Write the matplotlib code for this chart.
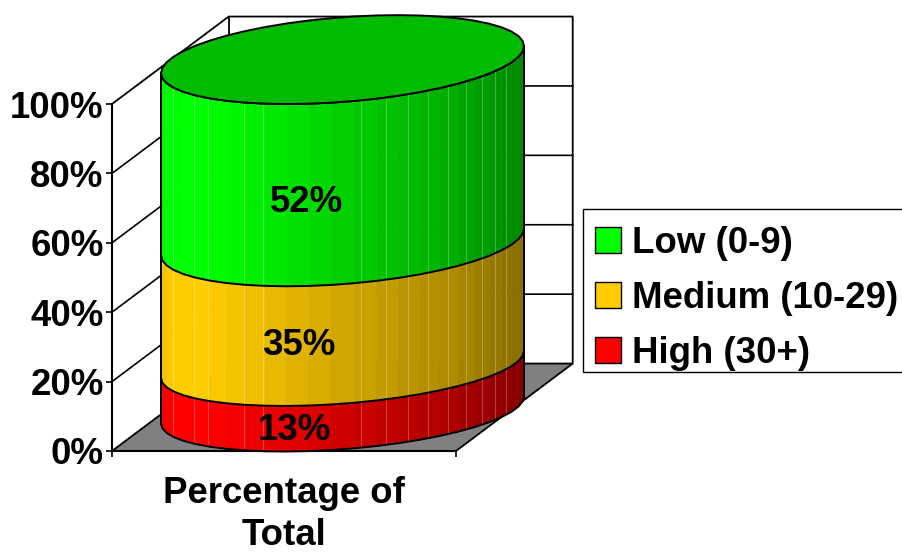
import numpy as np
import matplotlib
matplotlib.use('Agg')
import matplotlib.pyplot as plt
from matplotlib.patches import Patch, Polygon, Rectangle

plt.rcParams['font.family'] = ['Liberation Sans', 'DejaVu Sans']
plt.rcParams['font.weight'] = 'bold'
plt.rcParams['font.size'] = 26.4

categories = ['High (30+)', 'Medium (10-29)', 'Low (0-9)']
values = [13, 35, 52]
colors = ['#ff0000', '#ffcc00', '#00ff00']
value_ticks = [0, 20, 40, 60, 80, 100]
axis_name = 'Percentage of\nTotal'

W, H = 902, 552
fig = plt.figure(figsize=(W / 100, H / 100), dpi=100)
ax = fig.add_axes([112 / W, 1 - 451 / H, 344 / W, 347 / H])
ax.set_xlim(0, 344)
ax.set_ylim(0, 100)

# depth of the box, x in pixels and y in percent
dx, dy = 116.7, 25.2
# cylinder sits inside the box
cx, rx = 230.5, 181.5
base, stretch = 11.8, 1.01
tilt = 3.9

# facet edges and the lighter seams that show on the front
angles = np.radians(np.arange(180, 360.1, 7.2))
seams = np.radians([201, 215, 222, 237, 244, 276, 284, 291, 298, 305.5, 313, 320, 327, 334])


def depth(v):
    return 12.2 if v >= 48 else 11.3


def ring(v, t):
    x = cx + rx * np.cos(t)
    y = base + stretch * v + tilt * np.cos(t) + depth(v) * np.sin(t)
    return x, y


def shade(x):
    return np.interp(x, [49, 60, 96, 228, 338, 412], [0.93, 1, 1, 0.82, 0.68, 0.53])


# box walls and floor
ax.add_patch(Polygon([(0, 0), (344, 0), (344 + dx, dy), (dx, dy)], closed=True, fc='#808080', ec='black',
                     lw=1.3, clip_on=False, zorder=1))
ax.plot([0, dx, 344 + dx, 344 + dx], [100, 100 + dy, 100 + dy, dy], color='black', lw=1.3, clip_on=False, zorder=1)
ax.plot([dx, dx], [dy, 100 + dy], color='black', lw=1.3, clip_on=False, zorder=1)
for v in value_ticks[1:-1]:
    ax.plot([0, dx, 344 + dx], [v, v + dy, v + dy], color='black', lw=1.2, clip_on=False, zorder=1)

# stacked bands, one polygon per facet
bottom = 0
for val, col in zip(values, colors):
    rgb = np.array(matplotlib.colors.to_rgb(col))
    top = bottom + val
    for t0, t1 in zip(angles[:-1], angles[1:]):
        x0, y0 = ring(bottom, t0)
        x1, y1 = ring(bottom, t1)
        x2, y2 = ring(top, t1)
        x3, y3 = ring(top, t0)
        c = rgb * shade((x0 + x1) / 2)
        ax.add_patch(Polygon([(x0, y0), (x1, y1), (x2, y2), (x3, y3)], closed=True, fc=c, ec=c, lw=0.4,
                             clip_on=False, zorder=2))
    for t in seams:
        x0, y0 = ring(bottom, t)
        x1, y1 = ring(top, t)
        ax.plot([x0, x1], [y0, y1], color='white', alpha=0.25, lw=0.8, clip_on=False, zorder=3)
    bottom = top

# outlines
levels = np.cumsum([0] + values)
for v in levels:
    x, y = ring(v, angles)
    ax.plot(x, y, color='black', lw=1.4, clip_on=False, zorder=4)
for t in [angles[0], angles[-1]]:
    x0, y0 = ring(0, t)
    x1, y1 = ring(100, t)
    ax.plot([x0, x1], [y0, y1], color='black', lw=1.4, clip_on=False, zorder=4)

# top cap
cap = np.radians(np.arange(0, 360, 7.2))
capx, capy = ring(100, cap)
ax.add_patch(Polygon(np.column_stack([capx, capy]), closed=True, fc='#00bb00', ec='black', lw=1.4,
                     clip_on=False, zorder=5))

# value labels, nudged a little off the middle of each band
nudges = [-0.5, 0, -2.5]
bottom = 0
for val, nudge in zip(values, nudges):
    mid = bottom + val / 2
    ax.text(181 + 0.18 * mid, mid + nudge, f'{val}%', ha='center', va='center', color='black', zorder=6)
    bottom += val

for s in ['top', 'right']:
    ax.spines[s].set_visible(False)
ax.spines['left'].set_linewidth(1.5)
ax.spines['bottom'].set_linewidth(1.5)
ax.spines['left'].set_zorder(1)
ax.spines['bottom'].set_zorder(1)
ax.set_yticks(value_ticks)
ax.set_yticklabels([f'{v}%' for v in value_ticks])
ax.set_xticks([0, 344])
ax.set_xticklabels([])
ax.tick_params(length=4.5, width=1.2, pad=1.5)
ax.set_xlabel(axis_name, labelpad=12, linespacing=1.25, fontweight='bold')
ax.patch.set_visible(False)

# legend box runs off the right side
fig.add_artist(Rectangle((583 / W, 1 - 372 / H), 330 / W, 163 / H, transform=fig.transFigure, fc='white',
                         ec='black', lw=1))
handles = [Patch(fc=c, ec='black', lw=1) for c in colors[::-1]]
fig.legend(handles, categories[::-1], loc='upper left', bbox_to_anchor=(583 / W, 1 - 214 / H),
           bbox_transform=fig.transFigure, frameon=False, borderaxespad=0, borderpad=0.33, handlelength=0.71,
           handleheight=0.71, handletextpad=0.3, labelspacing=0.54)

fig.savefig('out.png', dpi=100)
